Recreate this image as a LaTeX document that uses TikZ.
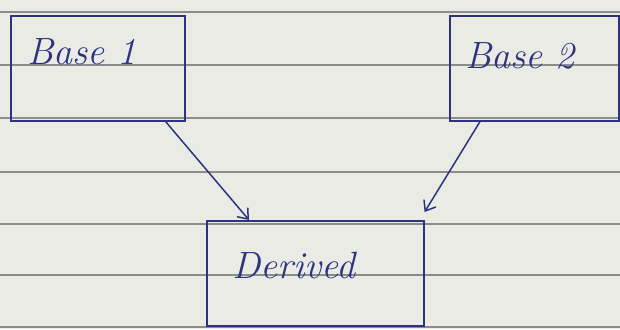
\documentclass[tikz,border=0pt]{standalone}
\usetikzlibrary{arrows.meta,calc}
\definecolor{ink}{HTML}{2E3380}
\definecolor{paper}{HTML}{EBEBE6}
\definecolor{ruling}{HTML}{8C8C8A}
\begin{document}
\begin{tikzpicture}[x=1pt,y=-1pt,
  box/.style={draw=ink, line width=1.6pt, anchor=north west, inner sep=0pt},
  hand/.style={text=ink, anchor=west, inner sep=0pt, font=\fontsize{38}{38}\selectfont\itshape},
  link/.style={draw=ink, line width=1.5pt, -{Straight Barb[length=9pt,width=14pt,line width=1.5pt]}},
  paperline/.style={draw=ruling, line width=1.1pt}]
\fill[paper] (0,0) rectangle (620,329);
\useasboundingbox (0,0) rectangle (620,329);
\foreach \yy in {12,65,118,172,224,275,327}
  \draw[paperline] (0,\yy) -- (620,\yy);
\node[box, minimum width=174pt, minimum height=105pt] (base1) at (10,15) {};
\node[box, minimum width=169pt, minimum height=105pt] (base2) at (449,15) {};
\node[box, minimum width=217pt, minimum height=105pt] (derived) at (206,220) {};
\node[hand] (t1) at (27,52) {Base 1};
\node[hand] (t2) at (465,56) {Base 2};
\node[hand] (t3) at (232,266) {Derived};
\draw[link] ($(base1.south east)+(-20,0)$) -- ($(derived.north west)+(43,0)$);
\draw[link] ($(base2.south west)+(31,0)$) -- ($(derived.north east)+(0,-8)$);
\end{tikzpicture}
\end{document}
